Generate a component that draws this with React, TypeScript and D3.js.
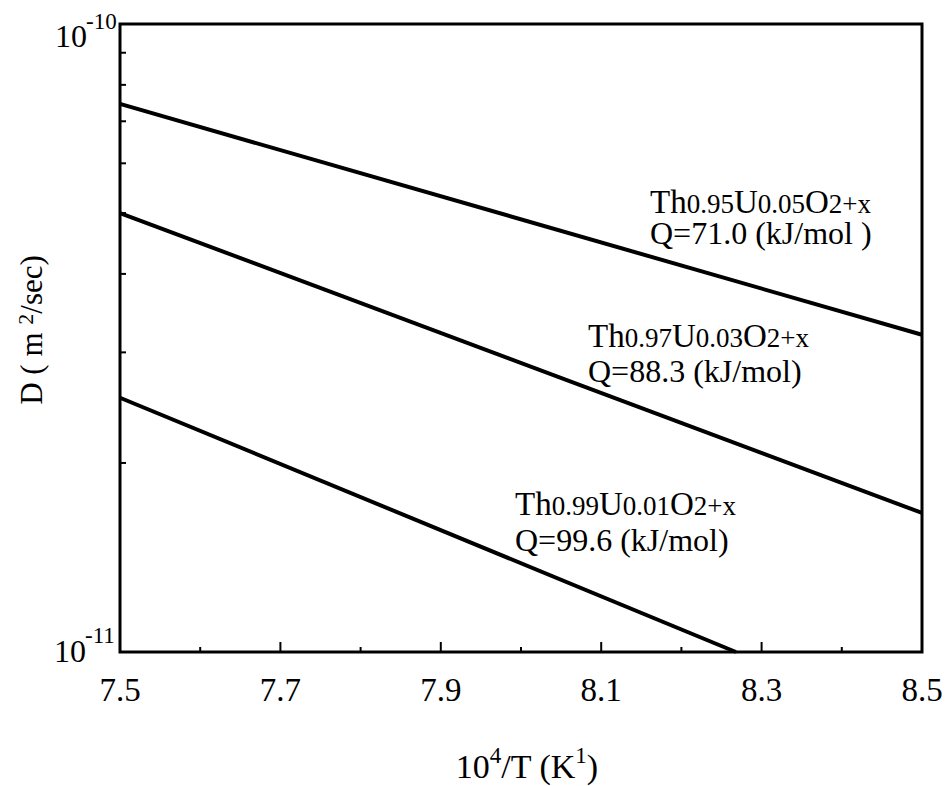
import React from "react";
import * as d3 from "d3";

const xDomain = [7.5, 8.5];
const yDomain = [1e-11, 1e-10];
const xTicks = [7.5, 7.6, 7.7, 7.8, 7.9, 8.0, 8.1, 8.2, 8.3, 8.4, 8.5];
const xTickLabels = ["7.5", "7.7", "7.9", "8.1", "8.3", "8.5"];
const yMinorTicks = [2e-11, 3e-11, 4e-11, 5e-11, 6e-11, 7e-11, 8e-11, 9e-11];

const seriesNames = ["0.95/0.05", "0.97/0.03", "0.99/0.01"];
const line1X = [7.5, 8.5];
const line1D = [7.46e-11, 3.2e-11];
const line2X = [7.5, 8.5];
const line2D = [5.0e-11, 1.665e-11];
const line3X = [7.5, 8.268];
const line3D = [2.54e-11, 1.0e-11];

const labelTh = ["0.95", "0.97", "0.99"];
const labelU = ["0.05", "0.03", "0.01"];
const labelQ = ["Q=71.0 (kJ/mol )", "Q=88.3 (kJ/mol)", "Q=99.6 (kJ/mol)"];

const FONT = "'Liberation Serif', 'Times New Roman', serif";

export default function App() {
  const left = 120, right = 922, top = 24, bottom = 652;
  const x = d3.scaleLinear().domain(xDomain).range([left, right]);
  const y = d3.scaleLog().domain(yDomain).range([bottom, top]);
  const line = d3
    .line<[number, number]>()
    .x((d) => x(d[0]))
    .y((d) => y(d[1]));

  const series = [
    { xs: line1X, ds: line1D },
    { xs: line2X, ds: line2D },
    { xs: line3X, ds: line3D },
  ];

  const labelPos = [
    { lx: 650, b1: 213, b2: 244 },
    { lx: 588, b1: 347, b2: 382 },
    { lx: 515, b1: 515, b2: 551 },
  ];

  return (
    <svg
      width={946}
      height={786}
      style={{ position: "absolute", left: 0, top: 0, background: "#fff", fontFamily: FONT }}
    >
      <rect x={0} y={0} width={946} height={786} fill="#fff" />
      {/* frame */}
      <rect
        x={left}
        y={top}
        width={right - left}
        height={bottom - top}
        fill="none"
        stroke="#000"
        strokeWidth={3}
      />
      {/* x ticks */}
      {xTicks.map((t, i) => {
        const major = xTickLabels.includes(t.toFixed(1));
        return (
          <line
            key={"xt" + i}
            x1={x(t)}
            x2={x(t)}
            y1={bottom}
            y2={bottom - (major ? 10 : 5)}
            stroke="#000"
            strokeWidth={2}
          />
        );
      })}
      {xTickLabels.map((l, i) => (
        <text
          key={"xl" + i}
          x={x(+l)}
          y={701}
          fontSize={33}
          textAnchor="middle"
          fill="#000"
        >
          {l}
        </text>
      ))}
      {/* y minor ticks */}
      {yMinorTicks.map((t, i) => (
        <line
          key={"yt" + i}
          x1={left}
          x2={left + 6}
          y1={y(t)}
          y2={y(t)}
          stroke="#000"
          strokeWidth={2}
        />
      ))}
      {/* y tick labels */}
      <text x={87} y={47} fontSize={32} textAnchor="end" fill="#000">
        10
      </text>
      <text x={86} y={29} fontSize={23} textAnchor="start" fill="#000">
        -10
      </text>
      <text x={86} y={662} fontSize={32} textAnchor="end" fill="#000">
        10
      </text>
      <text x={85} y={643} fontSize={23} textAnchor="start" fill="#000">
        -11
      </text>
      {/* lines */}
      {series.map((s, i) => (
        <path
          key={seriesNames[i]}
          d={line(s.xs.map((v, j) => [v, s.ds[j]] as [number, number])) || ""}
          fill="none"
          stroke="#000"
          strokeWidth={4}
        />
      ))}
      {/* labels */}
      {labelPos.map((p, i) => (
        <g key={"lab" + i} fill="#000">
          <text x={p.lx} y={p.b1} fontSize={33}>
            Th<tspan fontSize={27}>{labelTh[i]}</tspan>U<tspan fontSize={27}>{labelU[i]}</tspan>O<tspan fontSize={27}>2+x</tspan>
          </text>
          <text x={p.lx} y={p.b2} fontSize={32}>
            {labelQ[i]}
          </text>
        </g>
      ))}
      {/* y axis title */}
      <text
        transform="translate(42,330) rotate(-90)"
        fontSize={31}
        textAnchor="middle"
        fill="#000"
      >
        D ( m <tspan fontSize={22} dy={-9}>2</tspan><tspan dy={9}>/sec)</tspan>
      </text>
      {/* x axis title */}
      <text x={527} y={778} fontSize={34} textAnchor="middle" fill="#000">
        10<tspan fontSize={23} dy={-15}>4</tspan><tspan dy={15}>/T (K</tspan><tspan fontSize={23} dy={-15}>1</tspan><tspan dy={15}>)</tspan>
      </text>
    </svg>
  );
}
